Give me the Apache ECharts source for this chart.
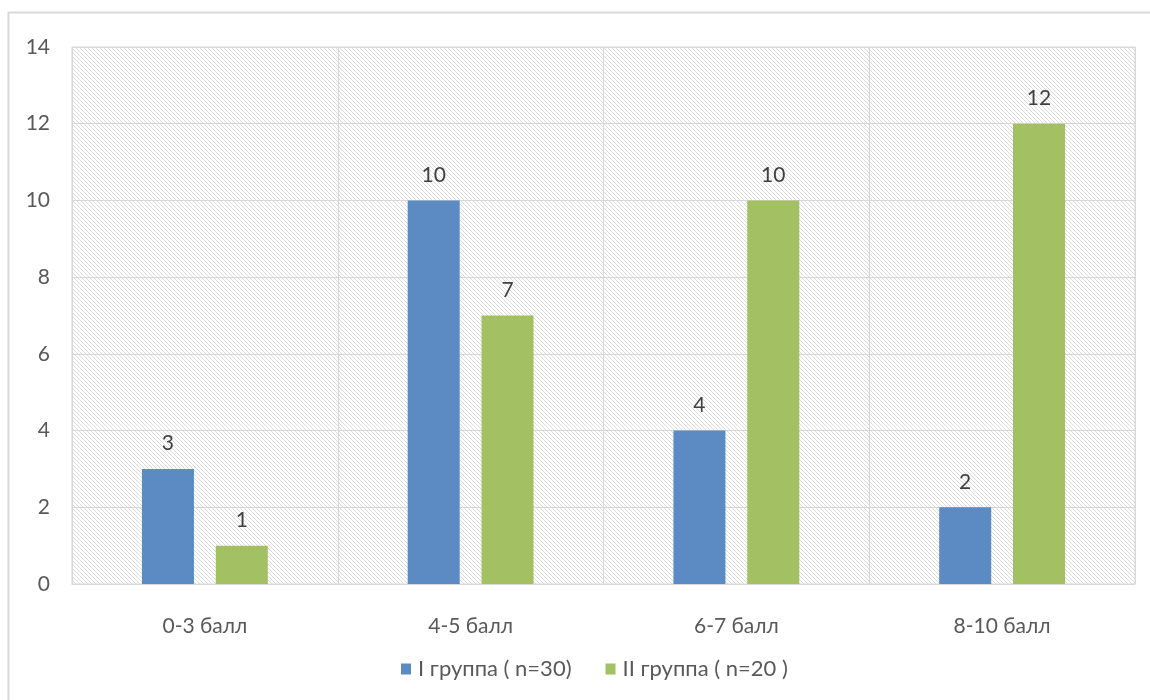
<!DOCTYPE html>
<html><head><meta charset="utf-8">
<script src="https://cdn.jsdelivr.net/npm/echarts@6/dist/echarts.min.js"></script>
<style>html,body{margin:0;padding:0;background:#fff;}#c{width:1150px;height:700px;}</style>
</head><body><div id="c"></div>
<script>
const categories = ['0-3 балл', '4-5 балл', '6-7 балл', '8-10 балл'];
const group1 = [3, 10, 4, 2];
const group2 = [1, 7, 10, 12];
const seriesNames = ['I группа ( n=30)', 'II группа ( n=20 )'];
const yTicks = [0, 2, 4, 6, 8, 10, 12, 14];

function hatch() {
  const c = document.createElement('canvas');
  c.width = 4; c.height = 4;
  const g = c.getContext('2d');
  g.fillStyle = '#ffffff'; g.fillRect(0, 0, 4, 4);
  g.strokeStyle = '#dcdcdc'; g.lineWidth = 1;
  g.beginPath();
  for (let k = -4; k <= 8; k += 4) { g.moveTo(k, 0); g.lineTo(k + 4, 4); }
  g.stroke();
  return c;
}
const font = 'Lato';
const fs = 21;
const chart = echarts.init(document.getElementById('c'));
chart.setOption({
  animation: false,
  backgroundColor: '#fff',
  graphic: [{ type: 'rect', shape: { x: 8.5, y: 12.5, width: 1160, height: 720 }, style: { fill: 'none', stroke: '#d9d9d9', lineWidth: 2 }, silent: true }],
  grid: { left: 72, right: 15, top: 47, bottom: 116, show: true, backgroundColor: { image: hatch(), repeat: 'repeat' }, borderColor: '#d9d9d9', borderWidth: 1 },
  legend: { top: 653, left: 396, itemWidth: 10, itemHeight: 11, itemGap: 34, icon: 'rect',
    textStyle: { fontFamily: font, fontSize: 22, color: '#595959', padding: [0, 0, 0, 2] }, data: seriesNames },
  xAxis: { type: 'category', data: categories,
    axisLine: { lineStyle: { color: '#d9d9d9' } }, axisTick: { show: false },
    splitLine: { show: true, lineStyle: { color: '#d9d9d9' } },
    axisLabel: { fontFamily: font, fontSize: fs, color: '#595959', margin: 32 } },
  yAxis: { type: 'value', min: yTicks[0], max: yTicks[yTicks.length - 1], interval: 2,
    axisLine: { show: false }, axisTick: { show: false },
    splitLine: { lineStyle: { color: '#d9d9d9' } },
    axisLabel: { fontFamily: font, fontSize: fs, color: '#595959', margin: 22 } },
  series: [
    { name: seriesNames[0], type: 'bar', data: group1, barWidth: 52, barGap: '42%',
      itemStyle: { color: '#5b8bc2' },
      label: { show: true, position: 'top', distance: 15, fontFamily: font, fontSize: fs, color: '#404040' } },
    { name: seriesNames[1], type: 'bar', data: group2, barWidth: 52,
      itemStyle: { color: '#a3c062' },
      label: { show: true, position: 'top', distance: 15, fontFamily: font, fontSize: fs, color: '#404040' } }
  ]
});
</script></body></html>
